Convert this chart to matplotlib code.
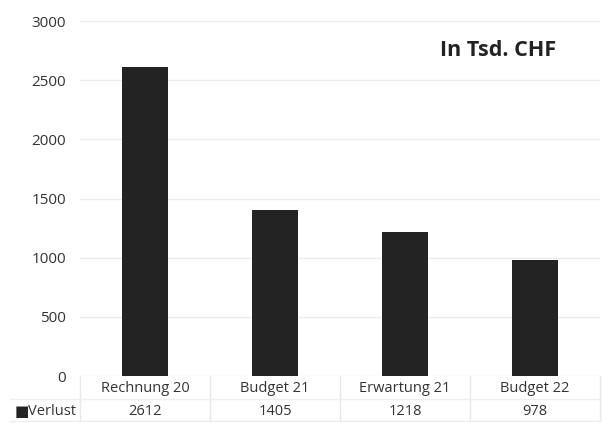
import matplotlib.pyplot as plt
from matplotlib.transforms import blended_transform_factory

categories = ["Rechnung 20", "Budget 21", "Erwartung 21", "Budget 22"]
verlust = [2612, 1405, 1218, 978]
yticks = [0, 500, 1000, 1500, 2000, 2500, 3000]

plt.rcParams['font.family'] = ['Open Sans', 'DejaVu Sans']

fig = plt.figure(figsize=(6.02, 4.23), dpi=100)
W, H = 602, 423
ax = fig.add_axes([80 / W, 1 - 376 / H, 520 / W, (376 - 21) / H])

x = list(range(len(categories)))
ax.bar(x, verlust, width=0.35, color="#232323", zorder=3)

ax.set_xlim(-0.5, len(categories) - 0.5)
ax.set_ylim(0, 3000)
ax.set_yticks(yticks)
ax.set_yticklabels([str(t) for t in yticks], fontsize=11, color="#333333")
ax.tick_params(axis="y", length=0, pad=10)
ax.set_xticks([])
ax.grid(axis="y", color="#ececec", linewidth=1, zorder=0)
for s in ax.spines.values():
    s.set_visible(False)

# data table below the plot
trans = blended_transform_factory(ax.transData, fig.transFigure)
row1 = 1 - 388 / H
row2 = 1 - 411 / H
for i, (cat, v) in enumerate(zip(categories, verlust)):
    ax.text(i, row1, cat, transform=trans, ha="center", va="center",
            fontsize=10.5, color="#333333", clip_on=False)
    ax.text(i, row2, str(v), transform=trans, ha="center", va="center",
            fontsize=10.5, color="#333333", clip_on=False)
for b in [-0.5, 0.5, 1.5, 2.5, 3.5]:
    ax.plot([b, b], [1 - 376 / H, 1 - 421 / H], transform=trans,
            color="#e8e8e8", linewidth=1, clip_on=False)
fig.add_artist(plt.Line2D([10 / W, 600 / W], [1 - 399 / H, 1 - 399 / H],
                          color="#eeeeee", linewidth=1))
fig.add_artist(plt.Line2D([10 / W, 600 / W], [1 - 421 / H, 1 - 421 / H],
                          color="#eeeeee", linewidth=1))
fig.text(15 / W, row2, "\u25a0", fontsize=11, color="#232323", va="center",
         family="DejaVu Sans")
fig.text(28 / W, row2, "Verlust", fontsize=10.5, color="#333333", va="center")

fig.text(556 / W, 1 - 50 / H, "In Tsd. CHF", fontsize=15.5, fontweight="bold",
         color="#222222", ha="right", va="center")

fig.savefig("out.png", dpi=100)
